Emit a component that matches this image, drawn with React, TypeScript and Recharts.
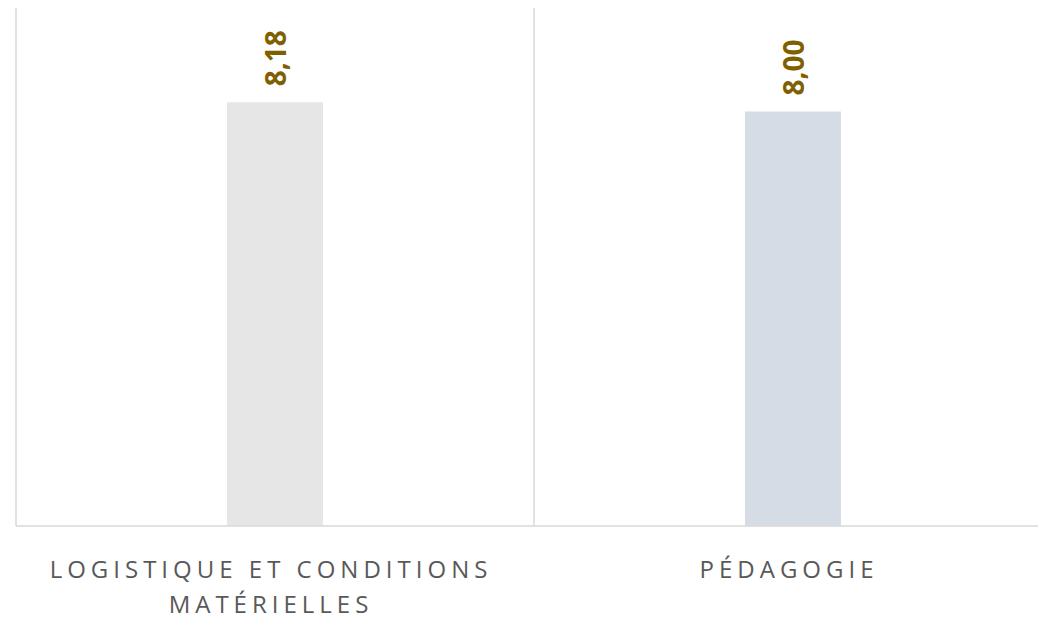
import { BarChart, Bar, XAxis, YAxis, CartesianGrid, LabelList, Cell } from 'recharts';

const categories = ['LOGISTIQUE ET CONDITIONS MATÉRIELLES', 'PÉDAGOGIE'];
const scores = [8.18, 8.0];
const barColors = ['#e6e6e6', '#d6dce5'];

const data = categories.map((name, i) => ({ name, score: scores[i] }));

function wrap(text: string, maxChars: number): string[] {
  const lines: string[] = [];
  let cur = '';
  for (const w of text.split(' ')) {
    const next = cur ? `${cur} ${w}` : w;
    if (next.length > maxChars && cur) {
      lines.push(cur);
      cur = w;
    } else {
      cur = next;
    }
  }
  if (cur) lines.push(cur);
  return lines;
}

function CategoryTick(props: any) {
  const { x, y, payload } = props;
  const lines = wrap(String(payload.value), 25);
  const tx = x - 4;
  return (
    <text
      x={tx}
      y={y}
      textAnchor="middle"
      fill="#595959"
      fontSize={24}
      fontFamily="'Open Sans', sans-serif"
      letterSpacing={5}
    >
      {lines.map((l, i) => (
        <tspan key={i} x={tx} dy={i === 0 ? 44 : 35}>
          {l}
        </tspan>
      ))}
    </text>
  );
}

function ValueLabel(props: any) {
  const { x, y, width, value } = props;
  const cx = x + width / 2;
  const ty = y - 16;
  return (
    <text
      x={cx}
      y={ty}
      transform={`rotate(-90 ${cx} ${ty})`}
      textAnchor="start"
      dominantBaseline="central"
      fill="#7f6000"
      fontSize={28}
      fontWeight="bold"
      fontFamily="'Open Sans', sans-serif"
    >
      {Number(value).toFixed(2).replace('.', ',')}
    </text>
  );
}

export default function App() {
  return (
    <div style={{ position: 'fixed', left: 0, top: 0, width: 1038, height: 620, overflow: 'hidden', background: '#fff' }}>
      <BarChart
        width={1070}
        height={620}
        data={data}
        margin={{ top: 8, right: 18, left: 16, bottom: 0 }}
      >
        <CartesianGrid
          horizontal={false}
          stroke="#d9d9d9"
          strokeWidth={1.5}
          verticalCoordinatesGenerator={({ offset }: any) => [offset.left, offset.left + offset.width / 2]}
        />
        <XAxis
          dataKey="name"
          axisLine={{ stroke: '#d9d9d9', strokeWidth: 1.5 }}
          tickLine={false}
          tick={<CategoryTick />}
          interval={0}
          height={94}
        />
        <YAxis hide domain={[0, 10]} width={0} />
        <Bar dataKey="score" barSize={96} isAnimationActive={false}>
          {data.map((d, i) => (
            <Cell key={d.name} fill={barColors[i]} />
          ))}
          <LabelList dataKey="score" content={<ValueLabel />} />
        </Bar>
      </BarChart>
    </div>
  );
}
